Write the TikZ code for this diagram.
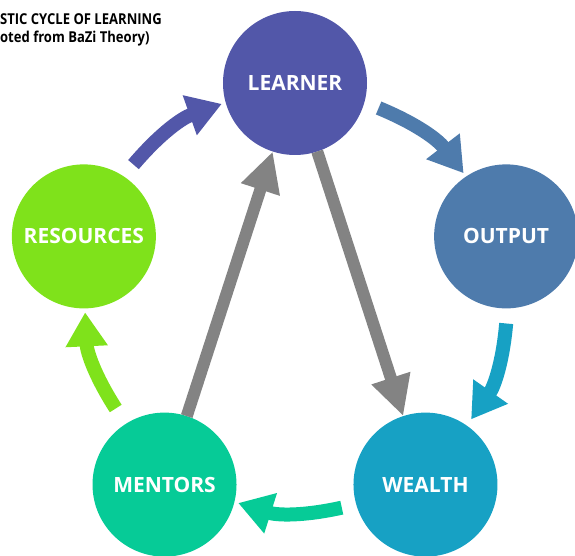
\documentclass[tikz,border=0pt]{standalone}
\usepackage{fontspec}
\setmainfont{Open Sans}
\usetikzlibrary{arrows.meta}

\definecolor{learnercol}{RGB}{82,87,169}
\definecolor{outputcol}{RGB}{78,123,172}
\definecolor{wealthcol}{RGB}{23,161,196}
\definecolor{mentorscol}{RGB}{6,203,151}
\definecolor{resourcescol}{RGB}{127,226,27}
\definecolor{crossgray}{RGB}{131,131,131}

\tikzset{
  stage/.style={circle, minimum size=144pt, inner sep=0pt, outer sep=0pt,
    text=white, font=\fontsize{21}{25}\selectfont\bfseries},
  cyclearrow/.style={line width=14pt, -{Triangle[width=40pt,length=34pt]}},
  crossarrow/.style={line width=12pt, draw=crossgray,
    -{Triangle[width=38pt,length=40pt]}},
  heading/.style={anchor=base west, inner sep=0pt, xscale=0.87,
    transform shape, font=\fontsize{15}{17}\selectfont\bfseries}
}

\begin{document}
\begin{tikzpicture}[x=1pt,y=1pt]
  \useasboundingbox (-295,-251) rectangle (280,305);

  % Title, cut off at the left edge
  \node[heading] (title) at (-295,280) {STIC CYCLE OF LEARNING};
  \node[heading] (subtitle) at (-295,262) {oted from BaZi Theory)};

  % The five stages on a pentagon
  \node[stage, fill=learnercol] (learner) at (90:222) {LEARNER};
  \node[stage, fill=outputcol] (output) at (18:222) {OUTPUT};
  \node[stage, fill=wealthcol] (wealth) at (-54:222) {WEALTH};
  \node[stage, fill=mentorscol] (mentors) at (-126:222) {MENTORS};
  \node[stage, fill=resourcescol] (resources) at (162:222) {RESOURCES};

  % Ends of the curved arrows round the cycle
  \coordinate (res-out) at (139:214);
  \coordinate (lea-in) at (110:214);
  \coordinate (lea-out) at (67:214);
  \coordinate (out-in) at (38:214);
  \coordinate (out-out) at (-5:212);
  \coordinate (wea-in) at (-33:210);
  \coordinate (wea-out) at (-77:208);
  \coordinate (men-in) at (-106:206);
  \coordinate (men-out) at (-150:207);
  \coordinate (res-in) at (-178:210);

  % Curved arrows round the cycle
  \draw[cyclearrow, draw=learnercol] (res-out) to[bend left=15] (lea-in);
  \draw[cyclearrow, draw=outputcol] (lea-out) to[bend left=15] (out-in);
  \draw[cyclearrow, draw=wealthcol] (out-out) to[bend left=15] (wea-in);
  \draw[cyclearrow, draw=mentorscol] (wea-out) to[bend left=15] (men-in);
  \draw[cyclearrow, draw=resourcescol] (men-out) to[bend left=15] (res-in);

  % Straight arrows across the cycle
  \draw[crossarrow] (mentors) -- (learner);
  \draw[crossarrow] (learner) -- (wealth);
\end{tikzpicture}
\end{document}
